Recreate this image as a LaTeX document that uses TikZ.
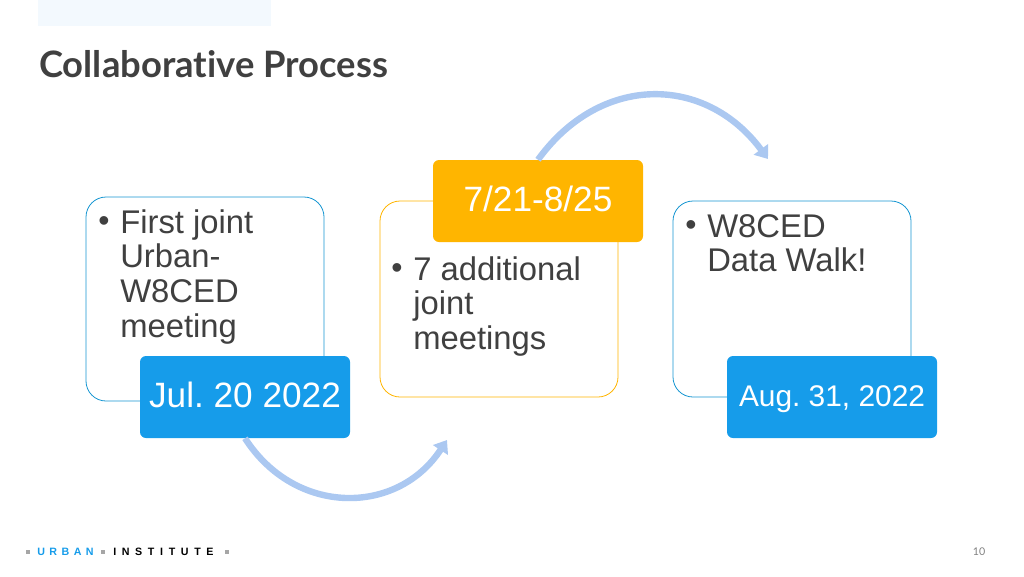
\documentclass[tikz,border=0pt]{standalone}
\usepackage{fontspec}
\setmainfont{Liberation Sans}
\newfontfamily\latofont[Ligatures=NoCommon]{Lato}
\newfontfamily\urbanfont[LetterSpace=42]{Liberation Sans}
\newfontfamily\institutefont[LetterSpace=53]{Liberation Sans}
\usetikzlibrary{arrows.meta}
\definecolor{urbanblue}{HTML}{169CEA}
\definecolor{urbanline}{HTML}{1696D2}
\definecolor{urbanamber}{HTML}{FFB500}
\definecolor{arcblue}{HTML}{ABC8F1}
\definecolor{bodygray}{HTML}{404040}
\definecolor{paleblue}{HTML}{F3F9FE}
\newcommand{\bulleted}[1]{\makebox[16.5pt][l]{\raisebox{1pt}{\fontsize{24}{24}\selectfont\textbullet}}\parbox[t]{130pt}{\raggedright #1}}
\tikzset{
  stagebox/.style={draw=#1,rounded corners=15pt,line width=0.6pt,minimum width=178.5pt,fill=white},
  datebox/.style={fill=#1,rounded corners=4.5pt,minimum width=157.5pt,minimum height=61.5pt,text=white,inner sep=0pt,text height=20pt,text depth=4pt,font=\fontsize{26.4}{28}\selectfont},
  itemtext/.style={anchor=north west,inner sep=0pt,text=bodygray,align=left,font=\fontsize{24.6}{26}\selectfont},
  arcarrow/.style={draw=arcblue,line width=4.8pt,-{Triangle[length=9pt,width=13pt]}},
  logodot/.style={fill=gray!70,minimum size=2.5pt,inner sep=0pt}
}
\frenchspacing
\begin{document}
\begin{tikzpicture}[x=0.75pt,y=-0.75pt]
  \useasboundingbox (0,0) rectangle (1024,576);

  % Header
  \fill[paleblue] (38,0) rectangle (271,26);
  \node[anchor=west,inner sep=0pt,text=bodygray,font=\latofont\bfseries\fontsize{27.3}{30}\selectfont] (title) at (39,64) {Collaborative Process};

  % Stage boxes
  \node[stagebox=urbanline,minimum height=153pt] (firstbox) at (205,299) {};
  \node[stagebox=urbanamber,minimum height=147pt] (midbox) at (499,299) {};
  \node[stagebox=urbanline,minimum height=147pt] (lastbox) at (792,299) {};

  % Box texts
  \node[itemtext] (firsttext) at (98,209) {\bulleted{First joint\\Urban-\\W8CED\\meeting}};
  \node[itemtext] (midtext) at (391,256) {\bulleted{7 additional\\joint\\meetings}};
  \node[itemtext] (lasttext) at (685,214) {\bulleted{W8CED\\Data Walk!}};

  % Dates
  \node[datebox=urbanblue] (firstdate) at (245,397) {Jul. 20 2022};
  \node[datebox=urbanamber] (middate) at (538,201) {7/21-8/25};
  \node[datebox=urbanblue,text height=18pt,font=\fontsize{22.4}{26}\selectfont] (lastdate) at (832,397) {Aug. 31, 2022};

  % Arcs
  \coordinate (lowend) at (447,440);
  \coordinate (highend) at (768,159);
  \draw[arcarrow] (firstdate.south) .. controls (295,516) and (397,516) .. (lowend);
  \draw[arcarrow] (middate.north) .. controls (600,74) and (705,74) .. (highend);

  % Logo
  \node[logodot] (dota) at (28,552) {};
  \node[anchor=west,inner sep=0pt,text=urbanblue,font=\urbanfont\bfseries\fontsize{8}{9}\selectfont] (urban) at (37,552) {URBAN};
  \node[logodot] (dotb) at (103,552) {};
  \node[anchor=west,inner sep=0pt,text=black,font=\institutefont\bfseries\fontsize{8}{9}\selectfont] (institute) at (113,552) {INSTITUTE};
  \node[logodot] (dotc) at (227,552) {};

  % Page number
  \node[text=gray,inner sep=0pt,font=\latofont\fontsize{8}{9}\selectfont] (pagenum) at (979,552) {10};
\end{tikzpicture}
\end{document}
